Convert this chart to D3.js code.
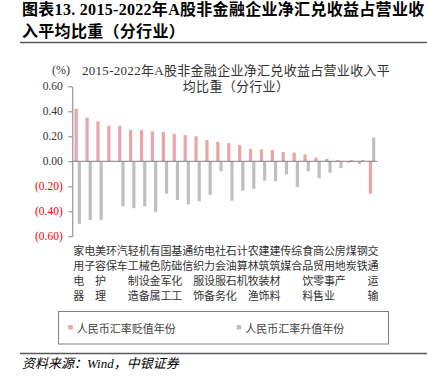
<!DOCTYPE html>
<html><head><meta charset="utf-8">
<script src="https://cdn.jsdelivr.net/npm/d3@7"></script>
<style>
html,body{margin:0;padding:0;background:#fff;}
svg{display:block;}
</style></head>
<body>
<svg id="c" width="427" height="380"></svg>
<script>
const categories = ["家用电器","电子","美容护理","环保","汽车","轻工制造","机械设备","有色金属","国防军工","基础化工","通信","纺织服饰","电力设备","社会服务","石油石化","计算机","农林牧渔","建筑装饰","建筑材料","传媒","综合","食品饮料","商贸零售","公用事业","房地产","煤炭","钢铁","交通运输"];
const depreciationYears = [0.42,0.35,0.32,0.285,0.285,0.25,0.25,0.24,0.235,0.22,0.21,0.20,0.17,0.155,0.145,0.13,0.10,0.095,0.09,0.075,0.07,0.055,0.03,0.02,0.01,-0.01,-0.02,-0.26];
const appreciationYears = [-0.50,-0.47,-0.47,0,-0.36,-0.375,-0.36,-0.405,-0.26,-0.31,-0.345,-0.32,-0.27,-0.08,-0.315,-0.235,-0.22,-0.155,-0.16,-0.105,-0.205,-0.08,-0.135,-0.09,-0.055,0.01,0.01,0.19];
const seriesNames = ["人民币汇率贬值年份","人民币汇率升值年份"];
const yTicks = [0.6,0.4,0.2,0,-0.2,-0.4,-0.6];
const headerLines = ["图表13. 2015-2022年A股非金融企业净汇兑收益占营业收","入平均比重（分行业）"];
const titleLines = ["2015-2022年A股非金融企业净汇兑收益占营业收入平","均比重（分行业）"];
const unitLabel = "(%)";
const sourceText = "资料来源：Wind，中银证券";

const FONT = "'Liberation Serif','Noto Sans CJK SC',serif";
const CJK = "'Noto Sans CJK SC','Liberation Serif',sans-serif";
const colors = ["#EAA5A5","#BFBFBF"];

const svg = d3.select("#c");

// header
svg.selectAll("text.hdr").data(headerLines).join("text")
  .attr("class","hdr")
  .attr("x",22).attr("y",(d,i)=>[9.5,31][i])
  .attr("dominant-baseline","central")
  .attr("font-family",FONT).attr("font-weight","bold").attr("font-size",16)
  .attr("letter-spacing",0.3)
  .attr("fill","#000").text(d=>d);
svg.append("line").attr("x1",20).attr("x2",427).attr("y1",42.5).attr("y2",42.5)
  .attr("stroke","#595959").attr("stroke-width",1.3);

// chart title
svg.selectAll("text.ttl").data(titleLines).join("text")
  .attr("class","ttl")
  .attr("x",236).attr("y",(d,i)=>[70,86][i])
  .attr("text-anchor","middle").attr("dominant-baseline","central")
  .attr("font-family",FONT).attr("font-size",13)
  .attr("letter-spacing",0.3)
  .attr("fill","#333").text(d=>d);
svg.append("text").attr("x",52).attr("y",70).attr("dominant-baseline","central")
  .attr("font-family",FONT).attr("font-size",12).attr("fill","#333").text(unitLabel);

// scales
const x = d3.scaleBand().domain(categories).range([72.3,377.5]).padding(0);
const bw = x.bandwidth();
const xs = d3.scaleBand().domain([0,1]).range([bw/2-3.2, bw/2+3.2]);
const y = d3.scaleLinear().domain([-0.6,0.6]).range([236.3,86.3]);

// y axis
const fmt = v => v < 0 ? "(" + Math.abs(v).toFixed(2) + ")" : v.toFixed(2);
const yAxis = svg.append("g").attr("transform","translate(72.3,0)")
  .call(d3.axisLeft(y).tickValues(yTicks).tickFormat(fmt).tickSize(4).tickSizeOuter(0).tickPadding(5.5));
yAxis.select(".domain").attr("stroke","#7f7f7f");
yAxis.selectAll(".tick line").attr("stroke","#7f7f7f");
yAxis.selectAll(".tick text")
  .attr("font-family",FONT).attr("font-size",11.5)
  .attr("fill",d=>d<0?"#FF0000":"#333");

// bars
const series = [depreciationYears, appreciationYears];
series.forEach((vals,si)=>{
  svg.append("g").selectAll("rect").data(vals).join("rect")
    .attr("x",(d,i)=>x(categories[i]) + xs(si))
    .attr("width",xs.bandwidth())
    .attr("y",d=>y(Math.max(0,d)))
    .attr("height",d=>Math.abs(y(d)-y(0)))
    .attr("fill",colors[si]);
});

// zero line
svg.append("line").attr("x1",72.3).attr("x2",377.5).attr("y1",y(0)).attr("y2",y(0))
  .attr("stroke","#7f7f7f").attr("stroke-width",1);

// x labels (vertical stacked characters)
const rowY = [250,265,280,295];
const lab = svg.append("g");
categories.forEach(c=>{
  const cx = x(c) + bw/2 + 1;
  Array.from(c).forEach((ch,k)=>{
    lab.append("text").attr("x",cx).attr("y",rowY[k])
      .attr("text-anchor","middle").attr("dominant-baseline","central")
      .attr("font-family",CJK).attr("font-size",11).attr("fill","#333").text(ch);
  });
});

// legend
svg.append("rect").attr("x",58.5).attr("y",311.5).attr("width",330).attr("height",32.5)
  .attr("fill","none").attr("stroke","#7f7f7f").attr("stroke-width",1);
const legX = [68.3,236.7];
seriesNames.forEach((n,i)=>{
  svg.append("rect").attr("x",legX[i]).attr("y",325).attr("width",4.5).attr("height",4.5).attr("fill",colors[i]);
  svg.append("text").attr("x",legX[i]+8.5).attr("y",327.5).attr("dominant-baseline","central")
    .attr("font-family",CJK).attr("font-size",11).attr("fill","#404040").text(n);
});

// bottom rule + source
svg.append("line").attr("x1",20).attr("x2",427).attr("y1",353.5).attr("y2",353.5)
  .attr("stroke","#595959").attr("stroke-width",1.3);
svg.append("text").attr("x",22).attr("y",363).attr("dominant-baseline","central")
  .attr("font-family",FONT).attr("font-style","italic").attr("font-size",13)
  .attr("fill","#000").text(sourceText);
</script>
</body></html>
